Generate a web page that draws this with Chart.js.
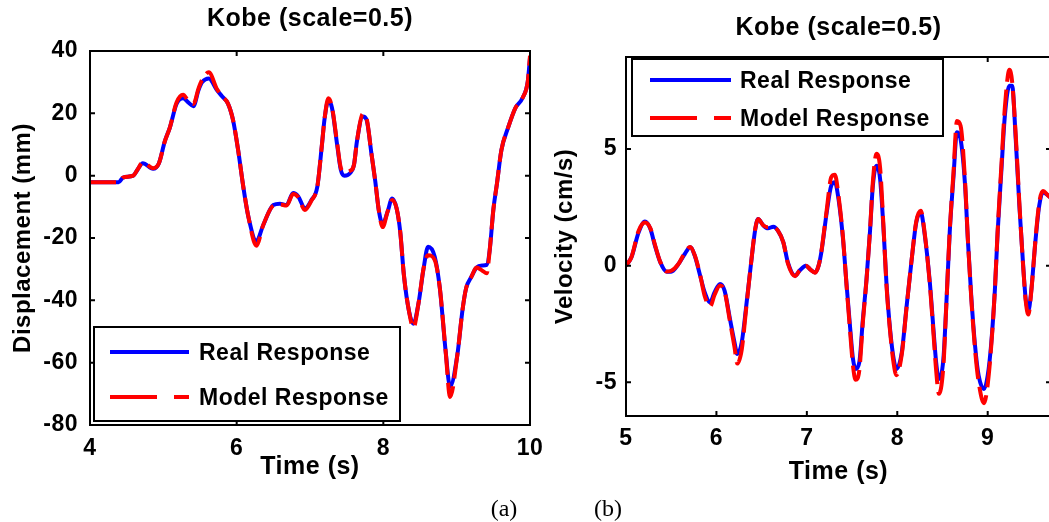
<!DOCTYPE html>
<html lang="en">
<head>
    <meta charset="UTF-8">
    <script src="https://cdn.jsdelivr.net/npm/chart.js"></script>
    <title>Kobe (scale=0.5)</title>
    <style>
        body { margin: 0; background: #fff; width: 1049px; height: 522px; overflow: hidden; position: relative; }
        .panel { position: absolute; top: 0; }
        .cap { position: absolute; font: 24px "Liberation Serif", "Times New Roman", serif; transform: translate(-50%, -50%); }
    </style>
</head>
<body>
    <div class="panel" style="left:0"><canvas id="dispChart" width="560" height="522"></canvas></div>
    <div class="panel" style="left:540px"><canvas id="velChart" width="540" height="522"></canvas></div>
    <div class="cap" style="left:504px; top:508px">(a)</div>
    <div class="cap" style="left:608px; top:508px">(b)</div>

    <script>
        // (a) displacement
        const dispTime = [4.00, 4.39, 4.45, 4.59, 4.65, 4.72, 4.86, 4.94, 5.02, 5.09,
            5.18, 5.27, 5.34, 5.41, 5.48, 5.53, 5.62, 5.73, 5.8, 5.88,
            5.95, 6.02, 6.09, 6.16, 6.27, 6.36, 6.5, 6.59, 6.68, 6.77,
            6.84, 6.93, 7.02, 7.1, 7.16, 7.2, 7.25, 7.3, 7.37, 7.42,
            7.47, 7.55, 7.6, 7.64, 7.72, 7.77, 7.84, 7.89, 7.94, 7.99,
            8.06, 8.12, 8.18, 8.23, 8.28, 8.35, 8.41, 8.48, 8.55, 8.61,
            8.7, 8.77, 8.85, 8.91, 9.01, 9.08, 9.13, 9.2, 9.27, 9.35,
            9.41, 9.45, 9.5, 9.55, 9.61, 9.7, 9.8, 9.9, 9.97, 10.0];
        const dispReal = [-2.1, -2.1, -0.6, 0.0, 2.0, 4.0, 2.2, 4.0, 11.0, 15.5,
            23.0, 24.8, 23.5, 22.3, 27.5, 30.0, 31.2, 27.5, 25.5, 23.2,
            17.9, 8.2, -3.5, -13.2, -21.0, -16.0, -9.4, -9.0, -9.4, -5.6,
            -6.7, -10.5, -7.8, -3.5, 9.3, 18.5, 24.0, 21.7, 9.9, 1.9,
            0.0, 0.9, 3.5, 11.0, 19.0, 18.0, 6.7, -1.8, -11.4, -15.5,
            -11.4, -7.3, -10.4, -17.9, -31.8, -43.5, -47.5, -40.9, -29.6, -22.8,
            -25.9, -36.0, -56.4, -67.7, -57.4, -43.0, -36.0, -32.5, -29.5, -28.8,
            -28.6, -24.0, -11.0, -2.4, 8.2, 15.3, 21.7, 25.0, 30.3, 37.8];
        const dispModel = [-2.1, -2.1, -0.6, 0.0, 2.0, 4.3, 2.4, 4.0, 11.0, 15.5,
            23.5, 26.0, 24.0, 23.0, 28.0, 30.8, 33.2, 27.8, 25.5, 23.2,
            17.9, 8.2, -3.5, -13.2, -22.5, -16.0, -9.6, -9.2, -9.6, -5.9,
            -6.9, -11.0, -8.0, -3.5, 9.3, 18.5, 24.8, 22.0, 10.5, 2.5,
            1.2, 1.6, 3.5, 11.0, 19.8, 18.5, 6.7, -1.8, -11.4, -16.5,
            -11.4, -7.8, -10.4, -17.9, -31.8, -43.5, -48.8, -40.9, -29.6, -25.5,
            -27.0, -36.0, -56.4, -71.0, -57.4, -43.0, -36.0, -32.5, -29.5, -30.5,
            -31.3, -24.0, -11.0, -2.4, 8.2, 15.3, 21.7, 25.0, 30.3, 38.5];
        const dispXTicks = [4, 6, 8, 10];
        const dispYTicks = [-80, -60, -40, -20, 0, 20, 40];

        // (b) velocity
        const velTime = [5.0, 5.06, 5.14, 5.21, 5.27, 5.32, 5.38, 5.45, 5.5, 5.58,
            5.65, 5.71, 5.76, 5.82, 5.87, 5.93, 5.98, 6.04, 6.09, 6.15,
            6.2, 6.23, 6.28, 6.33, 6.38, 6.43, 6.46, 6.52, 6.57, 6.63,
            6.68, 6.74, 6.79, 6.87, 6.92, 6.99, 7.04, 7.09, 7.13, 7.16,
            7.22, 7.27, 7.31, 7.35, 7.4, 7.44, 7.48, 7.51, 7.54, 7.58,
            7.62, 7.66, 7.7, 7.73, 7.77, 7.81, 7.85, 7.88, 7.92, 7.96,
            7.99, 8.05, 8.1, 8.16, 8.21, 8.26, 8.3, 8.36, 8.4, 8.43,
            8.46, 8.51, 8.54, 8.58, 8.62, 8.66, 8.7, 8.75, 8.78, 8.82,
            8.86, 8.9, 8.96, 9.0, 9.04, 9.08, 9.11, 9.15, 9.19, 9.24,
            9.27, 9.31, 9.35, 9.39, 9.42, 9.45, 9.48, 9.53, 9.57, 9.61,
            9.67, 9.7];
        const velReal = [0, 0.36, 1.43, 1.89, 1.57, 0.86, 0.14, -0.26, -0.26, 0.07,
            0.5, 0.79, 0.43, -0.43, -1.14, -1.57, -1.14, -0.79, -1.07, -2.29,
            -3.29, -3.79, -3.29, -1.72, 0, 1.57, 2.0, 1.72, 1.6, 1.67,
            1.5, 1.0, 0.14, -0.43, -0.21, 0, -0.17, -0.29, 0, 0.57,
            2.29, 3.43, 3.58, 2.86, 1.14, -0.86, -2.72, -4.0, -4.43, -4.15,
            -2.29, -0.57, 1.57, 3.43, 4.29, 3.72, 1.43, -0.72, -2.72, -4.0,
            -4.43, -3.72, -1.86, 0.29, 1.86, 2.29, 1.43, -0.72, -2.72, -4.15,
            -4.86, -4.0, -1.86, 1.43, 3.72, 5.72, 5.43, 3.43, 1.14, -1.43,
            -3.43, -4.72, -5.29, -4.72, -3.29, -1.0, 1.43, 4.0, 6.44, 7.72,
            7.72, 5.43, 2.58, 0.14, -1.43, -1.93, -1.14, 1.14, 2.58, 3.15,
            3.0, 2.9];
        const velModel = [0, 0.36, 1.5, 1.85, 1.6, 0.9, 0.15, -0.25, -0.22, 0.07,
            0.55, 0.8, 0.45, -0.4, -1.3, -1.75, -1.25, -0.85, -1.1, -2.4,
            -3.5, -4.2, -3.6, -1.8, 0, 1.6, 2.0, 1.72, 1.65, 1.65,
            1.5, 1.0, 0.1, -0.45, -0.21, 0, -0.17, -0.3, 0, 0.6,
            2.4, 3.8, 3.9, 3.0, 1.2, -0.9, -2.9, -4.3, -4.9, -4.5,
            -2.4, -0.6, 1.6, 3.6, 4.8, 4.2, 1.5, -0.8, -2.8, -4.2,
            -4.7, -3.8, -1.9, 0.3, 1.9, 2.35, 1.5, -0.8, -2.9, -4.5,
            -5.5, -4.3, -1.9, 1.5, 3.9, 6.2, 6.0, 3.6, 1.2, -1.5,
            -3.6, -5.0, -5.9, -5.1, -3.4, -1.0, 1.5, 4.2, 6.8, 8.4,
            7.9, 5.6, 2.7, 0.1, -1.5, -2.1, -1.2, 1.2, 2.7, 3.2,
            3.0, 2.9];
        const velXTicks = [5, 6, 7, 8, 9];
        const velYTicks = [-5, 0, 5];

        const seriesNames = ['Real Response', 'Model Response'];
        const titleText = 'Kobe (scale=0.5)';

        Chart.defaults.font.family = 'Arial, "Liberation Sans", sans-serif';
        Chart.defaults.font.weight = 'bold';
        Chart.defaults.color = '#000';

        const pts = (xs, ys) => xs.map((x, i) => ({ x: x, y: ys[i] }));

        // MATLAB style box with inward ticks, plus a boxed legend inside the axes
        const matlabAxes = {
            id: 'matlabAxes',
            beforeDraw(chart) {
                chart.ctx.letterSpacing = '0.5px';
            },
            afterDraw(chart, args, opts) {
                const { ctx, chartArea: a, scales } = chart;
                ctx.save();
                ctx.strokeStyle = '#000';
                ctx.lineWidth = 2;
                ctx.strokeRect(a.left, a.top, a.right - a.left, a.bottom - a.top);
                ctx.beginPath();
                scales.x.ticks.forEach(t => {
                    const px = scales.x.getPixelForValue(t.value);
                    ctx.moveTo(px, a.bottom); ctx.lineTo(px, a.bottom - 5);
                    ctx.moveTo(px, a.top); ctx.lineTo(px, a.top + 5);
                });
                scales.y.ticks.forEach(t => {
                    const py = scales.y.getPixelForValue(t.value);
                    ctx.moveTo(a.left, py); ctx.lineTo(a.left + 5, py);
                    ctx.moveTo(a.right, py); ctx.lineTo(a.right - 5, py);
                });
                ctx.stroke();

                const L = opts.box;
                const x0 = a.left + L.left;
                const y0 = L.top != null ? a.top + L.top : a.bottom - L.bottom - L.height;
                ctx.fillStyle = '#fff';
                ctx.fillRect(x0, y0, L.width, L.height);
                ctx.strokeRect(x0, y0, L.width, L.height);
                ctx.font = 'bold 23px Arial, "Liberation Sans", sans-serif';
                ctx.textBaseline = 'middle';
                chart.data.datasets.forEach((ds, i) => {
                    const y = y0 + L.firstRow + i * L.rowGap;
                    ctx.strokeStyle = ds.borderColor;
                    ctx.lineWidth = ds.borderWidth;
                    ctx.setLineDash(ds.legendDash || []);
                    ctx.beginPath();
                    ctx.moveTo(x0 + L.lineStart, y);
                    ctx.lineTo(x0 + L.lineStart + L.lineLen, y);
                    ctx.stroke();
                    ctx.setLineDash([]);
                    ctx.fillStyle = '#000';
                    ctx.fillText(ds.label, x0 + L.textStart, y + 2);
                });
                ctx.restore();
            }
        };

        function makeChart(id, cfg) {
            const datasets = [
                {
                    label: seriesNames[0],
                    data: pts(cfg.time, cfg.real),
                    borderColor: '#0000ff',
                    borderWidth: 4,
                    pointRadius: 0,
                    cubicInterpolationMode: 'monotone',
                    order: 2
                },
                {
                    label: seriesNames[1],
                    data: pts(cfg.time, cfg.model),
                    borderColor: '#ff0000',
                    borderWidth: 4,
                    borderDash: [26, 8],
                    legendDash: [47, 17],
                    pointRadius: 0,
                    cubicInterpolationMode: 'monotone',
                    order: 1
                }
            ];
            return new Chart(document.getElementById(id), {
                type: 'line',
                data: { datasets: datasets },
                plugins: [matlabAxes],
                options: {
                    responsive: false,
                    animation: false,
                    layout: { padding: { left: 0, right: cfg.padRight, top: 0, bottom: 0 } },
                    plugins: {
                        legend: { display: false },
                        tooltip: { enabled: false },
                        title: {
                            display: true,
                            text: titleText,
                            fullSize: false,
                            font: { size: 25, weight: 'bold', lineHeight: 1 },
                            padding: cfg.titlePad
                        },
                        matlabAxes: { box: cfg.legendBox }
                    },
                    scales: {
                        x: {
                            type: 'linear',
                            min: cfg.xMin,
                            max: cfg.xMax,
                            afterBuildTicks: s => { s.ticks = cfg.xTicks.map(v => ({ value: v })); },
                            afterFit: s => { s.height = cfg.xHeight; },
                            grid: { display: false, drawTicks: false },
                            border: { display: false },
                            ticks: { font: { size: 23, weight: 'bold', lineHeight: 1 }, padding: cfg.xTickPad, maxRotation: 0 },
                            title: {
                                display: true,
                                text: 'Time (s)',
                                font: { size: 25, weight: 'bold', lineHeight: 1 },
                                padding: { top: 0, bottom: cfg.xTitlePad }
                            }
                        },
                        y: {
                            min: cfg.yMin,
                            max: cfg.yMax,
                            afterBuildTicks: s => { s.ticks = cfg.yTicks.map(v => ({ value: v })); },
                            afterFit: s => { s.width = cfg.yWidth; },
                            grid: { display: false, drawTicks: false },
                            border: { display: false },
                            ticks: { font: { size: 23, weight: 'bold', lineHeight: 1 }, padding: cfg.yTickPad },
                            title: {
                                display: true,
                                text: cfg.yLabel,
                                font: { size: 24, weight: 'bold', lineHeight: 1 },
                                padding: { top: cfg.yTitlePad, bottom: 0 }
                            }
                        }
                    }
                }
            });
        }

        makeChart('dispChart', {
            time: dispTime, real: dispReal, model: dispModel,
            xMin: 4, xMax: 10, yMin: -80, yMax: 40,
            xTicks: dispXTicks, yTicks: dispYTicks,
            yLabel: 'Displacement (mm)',
            padRight: 30, titlePad: { top: 7, bottom: 19 },
            xHeight: 97, xTickPad: 12, xTitlePad: 42,
            yWidth: 90, yTickPad: 12, yTitlePad: 11,
            legendBox: { left: 4, bottom: 4, width: 306, height: 94, firstRow: 25, rowGap: 45, lineStart: 16, lineLen: 79, textStart: 105 }
        });

        makeChart('velChart', {
            time: velTime, real: velReal, model: velModel,
            xMin: 5, xMax: 9.7, yMin: -6.45, yMax: 8.95,
            xTicks: velXTicks, yTicks: velYTicks,
            yLabel: 'Velocity (cm/s)',
            padRight: 29, titlePad: { top: 16, bottom: 16 },
            xHeight: 106, xTickPad: 11, xTitlePad: 37,
            yWidth: 86, yTickPad: 9, yTitlePad: 13,
            legendBox: { left: 6, top: 2, width: 311, height: 77, firstRow: 21, rowGap: 38, lineStart: 18, lineLen: 81, textStart: 108 }
        });
    </script>
</body>
</html>
